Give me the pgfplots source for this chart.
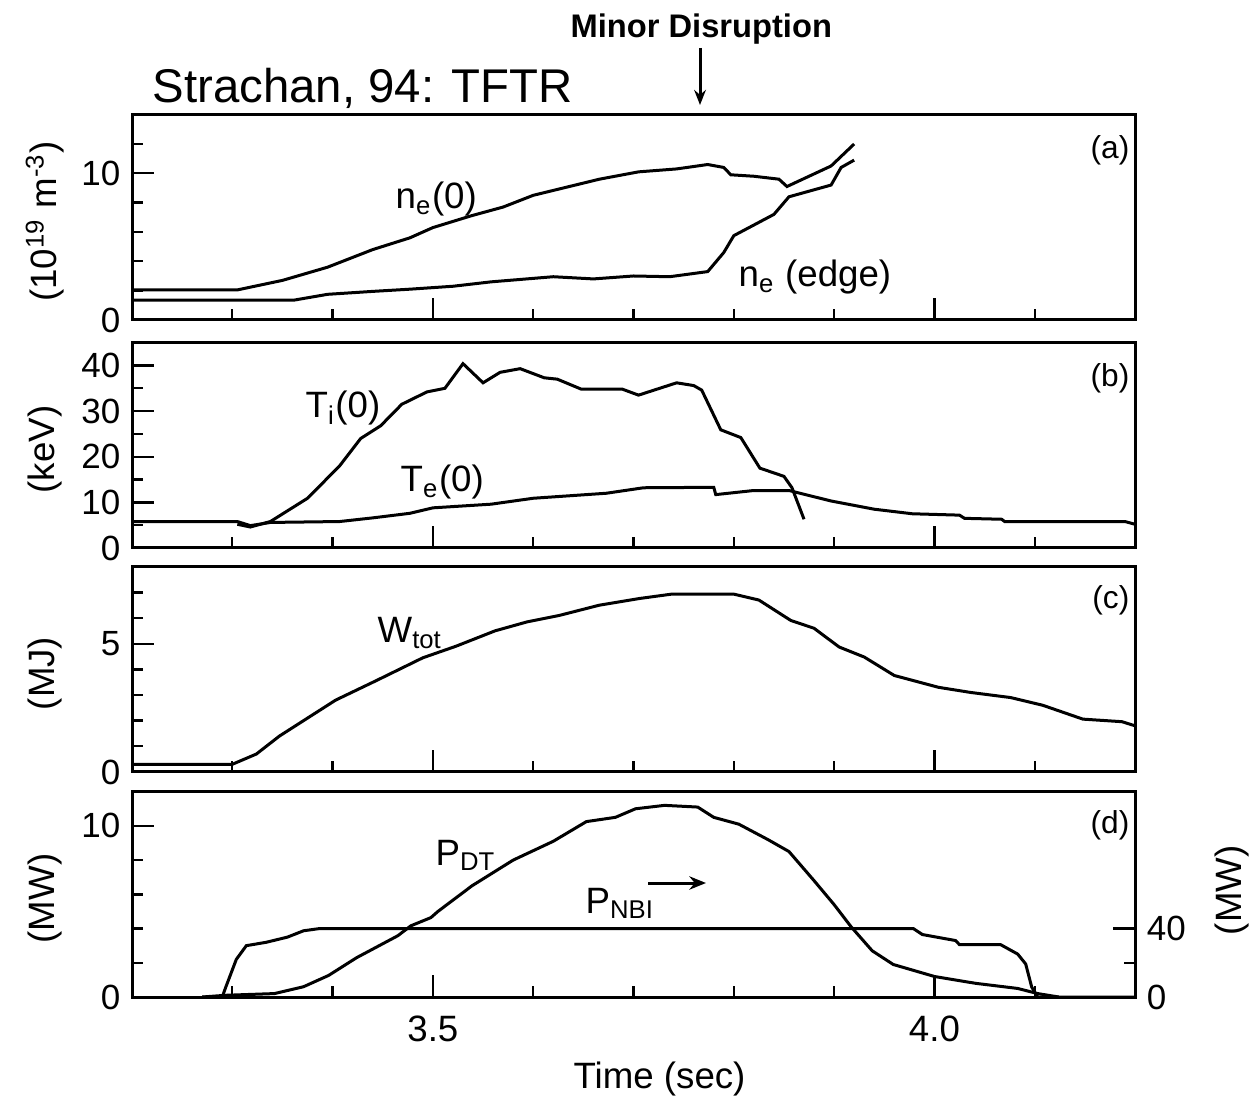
\documentclass[border=0pt]{standalone}
\usepackage{fontspec}
\setmainfont{Liberation Sans}
\usepackage{pgfplots}
\pgfplotsset{compat=1.18}
\usetikzlibrary{arrows.meta}
\pgfplotsset{
  curve/.style={black, line width=0.9pt, mark=none},
  panel/.style={
    scale only axis, width=300.9pt, height=61.6pt,
    anchor=south west,
    xmin=3.2, xmax=4.2,
    axis line style={line width=0.9pt},
    xtick={3.5,4.0}, minor xtick={3.3,3.4,3.6,3.7,3.8,3.9,4.1},
    xticklabels={},
    xtick pos=left, ytick pos=left, tick align=inside,
    major tick length=6.5pt, minor tick length=3.2pt,
    every tick/.style={black, line width=0.7pt},
    ticklabel style={font=\fontsize{10.5}{12}\selectfont},
    /pgf/number format/assume math mode=true,
    every axis y label/.style={at={(axis description cs:-0.0867,0.48)}, rotate=90, anchor=center, font=\fontsize{11}{13}\selectfont},
  }
}
\begin{document}
\begin{tikzpicture}
\useasboundingbox (0,0) rectangle (376.5pt,-330.6pt);
% (a)
\begin{axis}[panel, at={(39.6pt,-96pt)}, ymin=0, ymax=14, ytick={0,10}, minor ytick={2,4,6,8,12},
  ylabel={(10\textsuperscript{19} m\textsuperscript{-3})}]
\addplot[curve] coordinates {(3.2,2.05) (3.305,2.05) (3.35,2.7) (3.395,3.6) (3.44,4.8) (3.477,5.6) (3.50,6.3) (3.538,7.1) (3.57,7.7) (3.60,8.5) (3.63,9.0) (3.666,9.6) (3.705,10.1) (3.743,10.3) (3.774,10.6) (3.79,10.4) (3.797,9.9) (3.82,9.8) (3.845,9.6) (3.853,9.1) (3.875,9.8) (3.897,10.5) (3.92,12.0)};
\addplot[curve] coordinates {(3.2,1.36) (3.362,1.36) (3.395,1.75) (3.44,1.95) (3.477,2.1) (3.52,2.3) (3.558,2.6) (3.62,2.95) (3.66,2.8) (3.70,3.0) (3.736,2.95) (3.774,3.3) (3.79,4.6) (3.80,5.75) (3.84,7.2) (3.855,8.4) (3.897,9.2) (3.907,10.4) (3.92,10.9)};
\end{axis}
% (b)
\begin{axis}[panel, at={(39.6pt,-164.4pt)}, ymin=0, ymax=45, ytick={0,10,20,30,40}, minor ytick={5,15,25,35},
  ylabel={(keV)}]
\addplot[curve] coordinates {(3.305,5.2) (3.318,4.6) (3.338,5.8) (3.375,10.9) (3.407,18) (3.428,24) (3.448,26.8) (3.469,31.5) (3.494,34.2) (3.512,35) (3.53,40.4) (3.55,36.2) (3.567,38.5) (3.587,39.3) (3.611,37.3) (3.624,37) (3.648,34.8) (3.689,34.8) (3.705,33.5) (3.743,36.2) (3.76,35.6) (3.768,34.6) (3.787,25.9) (3.807,24.2) (3.826,17.5) (3.85,15.7) (3.858,13.2) (3.87,6.3)};
\addplot[curve] coordinates {(3.2,5.8) (3.305,5.8) (3.318,4.9) (3.338,5.6) (3.407,5.8) (3.44,6.6) (3.477,7.6) (3.50,8.8) (3.558,9.6) (3.60,10.9) (3.673,12.0) (3.71,13.2) (3.78,13.3) (3.782,11.7) (3.82,12.6) (3.855,12.6) (3.897,10.3) (3.94,8.5) (3.978,7.5) (4.025,7.2) (4.03,6.5) (4.067,6.3) (4.07,5.8) (4.19,5.8) (4.2,5.2)};
\end{axis}
% (c)
\begin{axis}[panel, at={(39.6pt,-231.6pt)}, ymin=0, ymax=8, ytick={0,5}, minor ytick={1,2,3,4,6,7},
  ylabel={(MJ)}]
\addplot[curve] coordinates {(3.2,0.3) (3.3,0.3) (3.324,0.7) (3.347,1.4) (3.379,2.2) (3.403,2.8) (3.443,3.55) (3.49,4.45) (3.523,4.9) (3.562,5.5) (3.594,5.85) (3.626,6.1) (3.666,6.5) (3.706,6.76) (3.738,6.93) (3.8,6.93) (3.825,6.7) (3.857,5.9) (3.88,5.6) (3.905,4.87) (3.93,4.48) (3.96,3.76) (4.004,3.3) (4.036,3.1) (4.076,2.9) (4.108,2.6) (4.148,2.06) (4.187,1.96) (4.2,1.8)};
\end{axis}
% (d)
\begin{axis}[panel, at={(39.6pt,-299.1pt)}, ymin=0, ymax=12, ytick={0,10}, minor ytick={2,4,6,8},
  xticklabels={3.5,4.0}, xticklabel style={font=\fontsize{11}{13}\selectfont, yshift=-2pt},
  ylabel={(MW)},
  xlabel={Time (sec)}, every axis x label/.style={at={(axis description cs:0.526,-0.40)}, anchor=center, font=\fontsize{11}{13}\selectfont}]
\addplot[curve] coordinates {(3.27,0) (3.293,0.1) (3.342,0.2) (3.371,0.6) (3.396,1.26) (3.424,2.3) (3.465,3.58) (3.478,4.16) (3.498,4.64) (3.505,5.0) (3.539,6.5) (3.58,8.0) (3.62,9.1) (3.653,10.25) (3.682,10.5) (3.702,11.0) (3.731,11.2) (3.764,11.1) (3.78,10.5) (3.805,10.1) (3.834,9.2) (3.855,8.5) (3.88,6.8) (3.9,5.4) (3.917,4.1) (3.938,2.7) (3.959,1.9) (4.0,1.2) (4.041,0.8) (4.083,0.5) (4.103,0.2) (4.124,0)};
\end{axis}
\begin{axis}[panel, at={(39.6pt,-299.1pt)}, ymin=0, ymax=120, hide x axis, axis y line*=right,
  ytick pos=right, yticklabel pos=right, ytick={0,40}, minor ytick={20},
  ylabel={(MW)}, every axis y label/.style={at={(axis description cs:1.097,0.52)}, rotate=90, anchor=center, font=\fontsize{11}{13}\selectfont}]
\addplot[curve] coordinates {(3.27,0) (3.29,0) (3.293,5) (3.304,22) (3.314,30) (3.334,32) (3.355,35) (3.371,38.7) (3.387,40) (3.979,40) (3.988,36.5) (4.021,33) (4.025,30.6) (4.066,30.6) (4.083,25.1) (4.091,19.3) (4.097,5.8) (4.103,0) (4.2,0)};
\end{axis}
% annotations
\node[anchor=base west, font=\fontsize{14.2}{16}\selectfont, inner sep=0pt] at (45.6pt,-30.9pt) {Strachan, 94: TFTR};
\node[anchor=base west, font=\bfseries\fontsize{9.8}{12}\selectfont, inner sep=0pt] at (171pt,-11.4pt) {Minor Disruption};
\draw[-{Stealth[length=4.5pt,width=3.5pt]}, line width=0.9pt] (210pt,-14.4pt) -- (210pt,-31.5pt);
\draw[-{Stealth[length=5pt,width=4pt]}, line width=0.9pt] (194.4pt,-264.9pt) -- (211.8pt,-264.9pt);
\begin{scope}[every node/.style={font=\fontsize{11}{13}\selectfont, inner sep=0pt}]
\node[anchor=base west] at (118.5pt,-62.7pt) {n\textsubscript{e}(0)};
\node[anchor=base west] at (221.4pt,-86.1pt) {n\textsubscript{e} (edge)};
\node[anchor=base west] at (91.5pt,-125.4pt) {T\textsubscript{i}(0)};
\node[anchor=base west] at (120pt,-147.6pt) {T\textsubscript{e}(0)};
\node[anchor=base west] at (113.1pt,-192.9pt) {W\textsubscript{tot}};
\node[anchor=base west] at (130.5pt,-259.5pt) {P\textsubscript{DT}};
\node[anchor=base west] at (175.5pt,-273.9pt) {P\textsubscript{NBI}};
\node[anchor=east, font=\fontsize{9.5}{11}\selectfont] at (339pt,-45pt) {(a)};
\node[anchor=east, font=\fontsize{9.5}{11}\selectfont] at (339pt,-113.4pt) {(b)};
\node[anchor=east, font=\fontsize{9.5}{11}\selectfont] at (339pt,-180pt) {(c)};
\node[anchor=east, font=\fontsize{9.5}{11}\selectfont] at (339pt,-247.5pt) {(d)};
\end{scope}
\end{tikzpicture}
\end{document}
